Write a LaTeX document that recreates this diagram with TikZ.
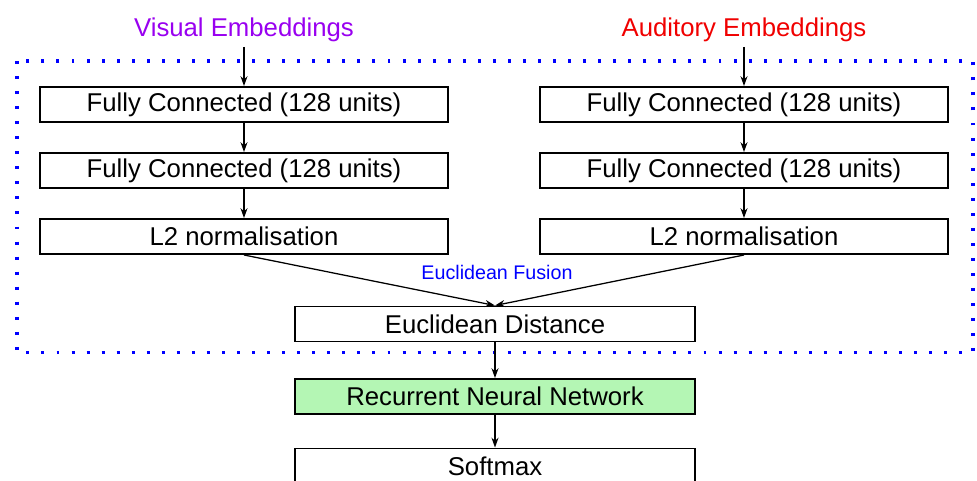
\documentclass[tikz,border=0pt]{standalone}
\usepackage{fontspec}
\setmainfont{Liberation Sans}
\usepackage{tikz}
\usetikzlibrary{arrows.meta}
\usetikzlibrary{calc}

\definecolor{vispurple}{RGB}{153,0,240}
\definecolor{audred}{RGB}{240,0,0}
\definecolor{fusblue}{RGB}{0,0,255}
\definecolor{rnngreen}{RGB}{180,246,180}

\begin{document}
\begin{tikzpicture}[x=0.025cm,y=-0.025cm,
        layer/.style={draw=black,line width=1.4pt,minimum width=10.2cm,minimum height=0.875cm,
            inner sep=0pt,font=\fontsize{18.3}{20}\selectfont},
        small/.style={layer,minimum width=10cm}]
        \clip (0,0) rectangle (977,480);

        \node[text=vispurple,font=\fontsize{18.3}{20}\selectfont] (vis) at (244,30) {Visual Embeddings};
        \node[text=audred,font=\fontsize{18.3}{20}\selectfont] (aud) at (744,30) {Auditory Embeddings};

        \node[layer] (fc1v) at (244,104.5) {Fully Connected (128 units)};
        \node[layer] (fc2v) at (244,170.5) {Fully Connected (128 units)};
        \node[layer] (l2v)  at (244,236.5) {L2 normalisation};
        \node[layer] (fc1a) at (744,104.5) {Fully Connected (128 units)};
        \node[layer] (fc2a) at (744,170.5) {Fully Connected (128 units)};
        \node[layer] (l2a)  at (744,236.5) {L2 normalisation};

        \node[small] (dist) at (495,324) {Euclidean Distance};
        \node[small,fill=rnngreen] (rnn) at (495,396.5) {Recurrent Neural Network};
        \node[small] (soft) at (495,466) {Softmax};

        \node[text=fusblue,font=\fontsize{14}{16}\selectfont] (fus) at (497,272) {Euclidean Fusion};

        \draw[fusblue,line width=2.2pt,dash pattern=on 2.1pt off 8.6pt] (17,61) rectangle (973,352.5);

        \begin{scope}[>={Stealth[black,length=7pt,width=5pt]},
                every edge/.style={draw=black,line width=0.9pt}]
            \path [->] (vis.south)  edge (fc1v);
            \path [->] (fc1v) edge (fc2v);
            \path [->] (fc2v) edge (l2v);
            \path [->] (aud.south)  edge (fc1a);
            \path [->] (fc1a) edge (fc2a);
            \path [->] (fc2a) edge (l2a);
            \path [->] (l2v.south) edge (dist.north);
            \path [->] (l2a.south) edge (dist.north);
            \path [->] (dist) edge (rnn);
            \path [->] (rnn)  edge (soft);
        \end{scope}
    \end{tikzpicture}
\end{document}
